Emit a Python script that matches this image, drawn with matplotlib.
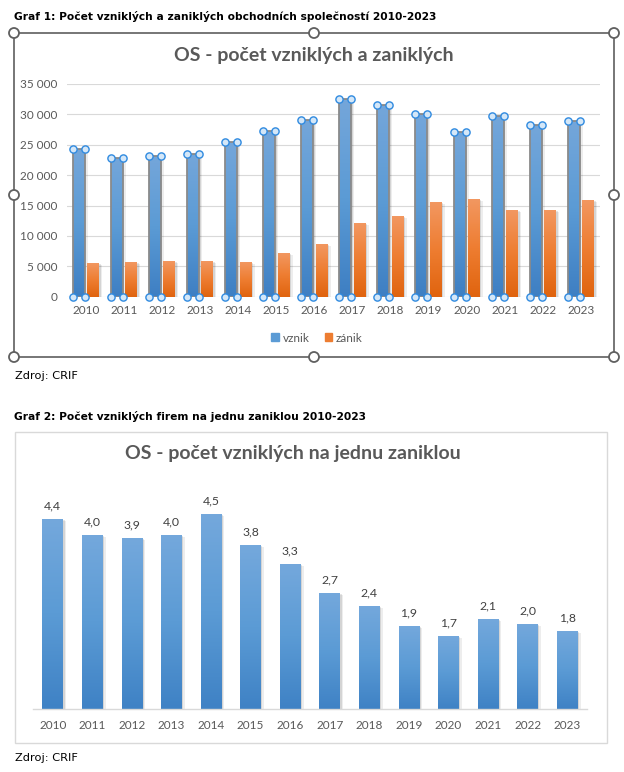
import numpy as np
import matplotlib
matplotlib.use('Agg')
import matplotlib.pyplot as plt
import matplotlib.transforms as mtransforms
from matplotlib.colors import LinearSegmentedColormap
from matplotlib.patches import Rectangle, Circle, Patch
from matplotlib.ticker import FuncFormatter, MultipleLocator

# Data
years = ['2010', '2011', '2012', '2013', '2014', '2015', '2016',
         '2017', '2018', '2019', '2020', '2021', '2022', '2023']
vznik = [24260, 22880, 23150, 23500, 25460, 27200, 29070,
         32500, 31550, 30000, 27160, 29800, 28250, 28900]
zanik = [5550, 5700, 5870, 5870, 5700, 7200, 8670,
         12130, 13280, 15580, 16080, 14270, 14270, 15900]
pomer = [4.37, 4.01, 3.94, 4.01, 4.49, 3.77, 3.34,
         2.67, 2.37, 1.92, 1.69, 2.08, 1.97, 1.81]

W, H = 624, 772
CHART_FONT = 'Lato'
CAP_FONT = 'DejaVu Sans'
GRAY = '#595959'
TICK_SIZE = 8.5

fig = plt.figure(figsize=(W / 100, H / 100), dpi=100)
fig.patch.set_facecolor('white')


def px_axes(left, top, right, bottom, z=1):
    a = fig.add_axes([left / W, 1 - bottom / H, (right - left) / W, (bottom - top) / H], zorder=z)
    a.patch.set_alpha(0)
    return a


def shadows(ax, x, vals, width):
    for dx, dy, al in [(1.5, -1, 0.10), (3, -2, 0.07)]:
        tr = mtransforms.offset_copy(ax.transData, fig=fig, x=dx, y=dy, units='dots')
        ax.bar(x, vals, width, color='black', alpha=al, transform=tr, zorder=1.5, linewidth=0)


def gradient_bars(ax, bars, c_top, c_mid, c_bot):
    cmap = LinearSegmentedColormap.from_list('g', [c_bot, c_mid, c_top])
    g = np.linspace(0, 1, 64).reshape(-1, 1)
    for b in bars:
        x0, w, h = b.get_x(), b.get_width(), b.get_height()
        im = ax.imshow(g, extent=[x0, x0 + w, 0, h], origin='lower', cmap=cmap,
                       aspect='auto', zorder=2, interpolation='bilinear')
        im.set_clip_path(b)


# overlay in pixel coordinates for frames and captions
ov = fig.add_axes([0, 0, 1, 1], zorder=0)
ov.set_xlim(0, W)
ov.set_ylim(H, 0)
ov.axis('off')

ov.text(14, 17, 'Graf 1: Počet vzniklých a zaniklých obchodních společností 2010-2023',
        family=CAP_FONT, fontweight='bold', fontsize=7.7, va='center', ha='left')
ov.text(15, 376, 'Zdroj: CRIF', family=CAP_FONT, fontsize=8.2, va='center', ha='left')
ov.text(14, 417, 'Graf 2: Počet vzniklých firem na jednu zaniklou 2010-2023',
        family=CAP_FONT, fontweight='bold', fontsize=7.7, va='center', ha='left')
ov.text(15, 758, 'Zdroj: CRIF', family=CAP_FONT, fontsize=8.2, va='center', ha='left')

# frame of chart 1 (selected object with handles)
ov.add_patch(Rectangle((14, 33), 600, 324, fill=False, edgecolor='#5f5f5f', linewidth=1.2))
for hx, hy in [(14, 33), (314, 33), (614, 33), (14, 195), (614, 195),
               (14, 357), (314, 357), (614, 357)]:
    ov.add_patch(Circle((hx, hy), 5, facecolor='white', edgecolor='#5f5f5f', linewidth=1.3, zorder=5))

# frame of chart 2
ov.add_patch(Rectangle((15, 432), 592, 311, fill=False, edgecolor='#d9d9d9', linewidth=1))

ov.text(314, 55, 'OS - počet vzniklých a zaniklých', family=CHART_FONT, fontweight='bold',
        fontsize=14, color=GRAY, ha='center', va='center')
ov.text(293, 454, 'OS - počet vzniklých na jednu zaniklou', family=CHART_FONT, fontweight='bold',
        fontsize=14, color=GRAY, ha='center', va='center')

# ---- chart 1 ----
ax1 = px_axes(67, 84, 600, 296.7)
x = np.arange(len(years))
bw = 0.315
off = 0.19
shadows(ax1, x - off, vznik, bw)
shadows(ax1, x + off, zanik, bw)
b_v = ax1.bar(x - off, vznik, bw, color='#5b9bd5', zorder=2, linewidth=0)
b_z = ax1.bar(x + off, zanik, bw, color='#ed7d31', zorder=2, linewidth=0)
gradient_bars(ax1, b_v, '#74a6da', '#5b9bd5', '#3e7fc3')
gradient_bars(ax1, b_z, '#f29760', '#ee7d31', '#e0640f')
ax1.bar(x - off, vznik, bw, facecolor='none', edgecolor='#8a8a8a', linewidth=1.3, zorder=3)
for xi, v in zip(x, vznik):
    ax1.plot([xi - off - bw / 2, xi - off + bw / 2, xi - off - bw / 2, xi - off + bw / 2],
             [v, v, 0, 0], linestyle='none', marker='o', markersize=5.2,
             markerfacecolor='#d4e7f8', markeredgecolor='#2f8ae0', markeredgewidth=1,
             zorder=4, clip_on=False)
ax1.set_xlim(-0.5, len(years) - 0.5)
ax1.set_ylim(0, 35000)
ax1.yaxis.set_major_locator(MultipleLocator(5000))
ax1.yaxis.set_major_formatter(FuncFormatter(lambda v, p: f'{int(v):,}'.replace(',', ' ')))
ax1.set_xticks(x)
ax1.set_xticklabels(years)
for s in ax1.spines.values():
    s.set_visible(False)
ax1.grid(axis='y', color='#d9d9d9', linewidth=0.8)
ax1.set_axisbelow(True)
ax1.tick_params(length=0, labelcolor=GRAY, labelsize=TICK_SIZE)
ax1.tick_params(axis='y', pad=7)
ax1.tick_params(axis='x', pad=6)
for lab in ax1.get_xticklabels() + ax1.get_yticklabels():
    lab.set_family(CHART_FONT)

fig.legend(handles=[Patch(color='#5b9bd5', label='vznik'), Patch(color='#ed7d31', label='zánik')],
           loc='center', bbox_to_anchor=(317 / W, 1 - 338 / H), ncol=2, frameon=False,
           handlelength=0.65, handleheight=0.65, handletextpad=0.3, columnspacing=1.3,
           prop={'family': CHART_FONT, 'size': TICK_SIZE}, labelcolor=GRAY)

# ---- chart 2 ----
ax2 = px_axes(33, 491.8, 587, 709.3)
bw2 = 0.52
shadows(ax2, x, pomer, bw2)
b_p = ax2.bar(x, pomer, bw2, color='#5b9bd5', zorder=2, linewidth=0)
gradient_bars(ax2, b_p, '#74a8dc', '#5b9bd5', '#3f82c5')
for xi, v in zip(x, pomer):
    ax2.annotate(f'{v:.1f}'.replace('.', ','), (xi, v), xytext=(0, 5.5), textcoords='offset points',
                 ha='center', va='bottom', fontsize=8.8, color='#404040', family=CHART_FONT)
ax2.set_xlim(-0.5, len(years) - 0.5)
ax2.set_ylim(0, 5)
ax2.set_xticks(x)
ax2.set_xticklabels(years)
ax2.set_yticks([])
for k, s in ax2.spines.items():
    s.set_visible(k == 'bottom')
ax2.spines['bottom'].set_color('#d9d9d9')
ax2.spines['bottom'].set_linewidth(1)
ax2.tick_params(length=0, labelcolor=GRAY, labelsize=TICK_SIZE, pad=7.5)
for lab in ax2.get_xticklabels():
    lab.set_family(CHART_FONT)

fig.savefig('out.png', dpi=100)
